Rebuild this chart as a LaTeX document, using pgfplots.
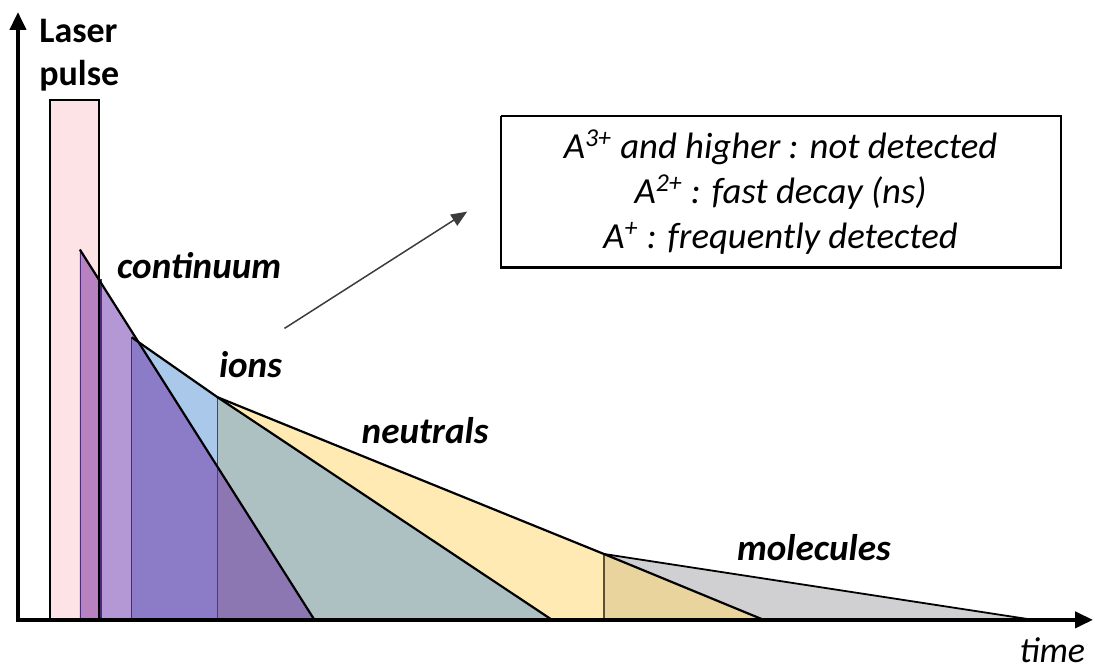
\documentclass[border=0pt]{standalone}
\usepackage{pgfplots}
\pgfplotsset{compat=1.18}
\usepackage{fontspec}
\setmainfont{Carlito}
\usetikzlibrary{arrows.meta}
\definecolor{cpink}{HTML}{FDE3E5}
\definecolor{cmauve}{HTML}{B882C0}
\definecolor{clav}{HTML}{B498D5}
\definecolor{cmed}{HTML}{8C7CC7}
\definecolor{cpg}{HTML}{8D77B2}
\definecolor{cblue}{HTML}{A9C8EA}
\definecolor{cteal}{HTML}{ADC1C2}
\definecolor{cyel}{HTML}{FEEAB2}
\definecolor{ctan}{HTML}{EAD49D}
\definecolor{cgrey}{HTML}{D0D0D2}
\definecolor{cdp}{HTML}{4A2A78}
\begin{document}
\begin{tikzpicture}
\begin{axis}[
  width=547.5pt, height=336pt, scale only axis,
  xmin=0, xmax=1095, ymin=0, ymax=672, y dir=reverse,
  hide axis, clip=false,
]
\addplot[draw=none] coordinates {(0,0) (1095,672)};
% laser pulse
\addplot[fill=cpink, draw=none] coordinates {(50,100) (99,100) (99,621) (50,621)};
% neutrals
\addplot[fill=cyel, draw=none] coordinates {(218,398) (605,555) (765,621) (218,621)};
% molecules
\addplot[fill=cgrey, draw=none] coordinates {(605,555) (1035,621) (605,621)};
\addplot[fill=ctan, draw=none] coordinates {(605,555) (765,621) (605,621)};
% ions
\addplot[fill=cblue, draw=none] coordinates {(132,338) (218,398) (553,621) (132,621)};
\addplot[fill=cteal, draw=none] coordinates {(218,398) (553,621) (218,621)};
% continuum
\addplot[fill=clav, draw=none] coordinates {(80,250) (315,621) (80,621)};
\addplot[fill=cmauve, draw=none] coordinates {(80,250) (99,280) (99,621) (80,621)};
\addplot[fill=cmed, draw=none] coordinates {(132,338) (139,343) (218,467) (218,621) (132,621)};
\addplot[fill=cpg, draw=none] coordinates {(218,467) (315,621) (218,621)};
% thin vertical lines
\addplot[cdp, line width=0.8pt] coordinates {(80.5,250) (80.5,621)};
\addplot[cdp, line width=0.8pt] coordinates {(101,280) (101,621)};
\addplot[cdp, line width=0.7pt] coordinates {(132,338) (132,621)};
\addplot[color={rgb,255:red,60;green,70;blue,110}, line width=0.6pt] coordinates {(218,398) (218,621)};
\addplot[color={rgb,255:red,90;green,80;blue,50}, line width=0.6pt] coordinates {(605,555) (605,621)};
% outlines
\addplot[black, line width=1.1pt] coordinates {(50,621) (50,100) (99,100) (99,621)};
\addplot[black, line width=1.1pt] coordinates {(80,250) (315,621)};
\addplot[black, line width=1.1pt] coordinates {(132,338) (218,398) (553,621)};
\addplot[black, line width=1.1pt] coordinates {(218,398) (605,555) (765,621)};
\addplot[black, line width=0.9pt] coordinates {(605,555) (1035,621)};
% axes
\addplot[black, line width=2pt, {Triangle[length=9pt,width=8pt]}-{Triangle[length=9pt,width=8pt]}] coordinates {(18,12) (18,621) (1095,621)};
% pointer
\addplot[color={rgb,255:red,60;green,60;blue,60}, line width=0.75pt, -{Triangle[length=8pt,width=6.5pt]}] coordinates {(285,329) (468,212)};
% box
\addplot[black, line width=1.1pt] coordinates {(502,116) (1063,116) (1063,268) (502,268) (502,116)};
% labels
\node[anchor=base west, font=\fontsize{18}{20}\selectfont\bfseries, inner sep=0pt] at (axis cs:39,43) {Laser};
\node[anchor=base west, font=\fontsize{18}{20}\selectfont\bfseries, inner sep=0pt] at (axis cs:39,86) {pulse};
\node[anchor=base west, font=\fontsize{18.6}{20}\selectfont\bfseries\itshape, inner sep=0pt] at (axis cs:117,279) {continuum};
\node[anchor=base west, font=\fontsize{18.6}{20}\selectfont\bfseries\itshape, inner sep=0pt] at (axis cs:219,378) {ions};
\node[anchor=base west, font=\fontsize{18.6}{20}\selectfont\bfseries\itshape, inner sep=0pt] at (axis cs:362,444) {neutrals};
\node[anchor=base west, font=\fontsize{18.6}{20}\selectfont\bfseries\itshape, inner sep=0pt] at (axis cs:738,562) {molecules};
\node[anchor=base west, font=\fontsize{18}{20}\selectfont\itshape, inner sep=0pt, text depth=0pt] at (axis cs:1021,664) {time};
\node[anchor=base, font=\fontsize{18.4}{20}\selectfont\itshape, inner sep=0pt] at (axis cs:782,159) {A\textsuperscript{3+} and higher : not detected};
\node[anchor=base, font=\fontsize{18.4}{20}\selectfont\itshape, inner sep=0pt] at (axis cs:782,204) {A\textsuperscript{2+} : fast decay (ns)};
\node[anchor=base, font=\fontsize{18.4}{20}\selectfont\itshape, inner sep=0pt] at (axis cs:782,249) {A\textsuperscript{+} : frequently detected};
\end{axis}
\end{tikzpicture}
\end{document}
